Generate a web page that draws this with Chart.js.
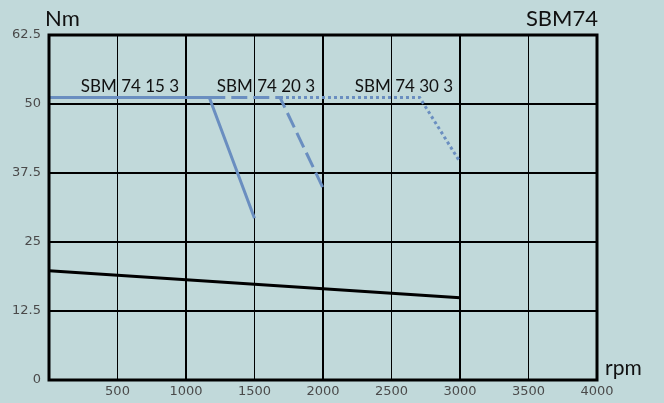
<!DOCTYPE html>
<html><head><meta charset="utf-8">
<script src="https://cdn.jsdelivr.net/npm/chart.js@4/dist/chart.umd.min.js"></script>
<style>html,body{margin:0;padding:0;background:#c1d9da;}canvas{display:block;}</style>
</head><body>
<canvas id="c" width="664" height="403"></canvas>
<script>
const xTicks = [0,500,1000,1500,2000,2500,3000,3500,4000];
const yTicks = [0,12.5,25,37.5,50,62.5];
const seriesNames = ['SBM 74 15 3','SBM 74 20 3','SBM 74 30 3','base'];
const s1 = [{x:0,y:51.2},{x:1170,y:51.2},{x:1500,y:29.3}];
const s2 = [{x:1170,y:51.2},{x:1686,y:51.2},{x:2000,y:34.8}];
const s3 = [{x:1686,y:51.2},{x:2705,y:51.2},{x:3000,y:39.5}];
const base = [{x:0,y:19.8},{x:3000,y:14.9}];
const labelPos = [{x:591,y:52.2},{x:1584,y:52.2},{x:2591,y:52.2}];

const blue = '#6a8ec0';
const labelPlugin = {
  id:'labels',
  afterDraw(chart){
    const {ctx, chartArea:a, scales:{x,y}} = chart;
    ctx.save();
    ctx.strokeStyle='#000'; ctx.lineWidth=3;
    ctx.strokeRect(a.left, a.top, a.right-a.left, a.bottom-a.top);
    ctx.fillStyle='#111';
    ctx.font='17px Lato';
    ctx.textAlign='center'; ctx.textBaseline='alphabetic';
    labelPos.forEach((p,i)=>{ ctx.fillText(seriesNames[i], x.getPixelForValue(p.x), y.getPixelForValue(p.y)); });
    ctx.font='22px Lato';
    ctx.textAlign='left';
    ctx.fillText('Nm', 45, 26);
    ctx.textAlign='right';
    ctx.fillText('SBM74', 598, 26);
    ctx.textAlign='left';
    ctx.font='21px Lato';
    ctx.fillText('rpm', 605, 375);
    ctx.restore();
  }
};
new Chart(document.getElementById('c'), {
  type:'line',
  data:{datasets:[
    {data:s1, borderColor:blue, borderWidth:3, pointRadius:0, order:1},
    {data:s2, borderColor:blue, borderWidth:3, pointRadius:0, borderDash:[16,6], order:2},
    {data:s3, borderColor:blue, borderWidth:3, pointRadius:0, borderDash:[3,3], order:3},
    {data:base, borderColor:'#000', borderWidth:3, pointRadius:0, order:0}
  ]},
  options:{
    responsive:false, animation:false,
    layout:{padding:{top:35,right:67,left:0,bottom:0}},
    plugins:{legend:{display:false},tooltip:{enabled:false}},
    scales:{
      x:{type:'linear',min:0,max:4000,
        afterBuildTicks(s){s.ticks = xTicks.map(v=>({value:v}));},
        afterFit(s){s.height=23;},
        grid:{color:'#000', lineWidth:c=>c.tick && c.tick.value%1000===0?2:1, drawTicks:false},
        border:{display:false},
        ticks:{padding:4, color:'#4a4a4a', font:{family:'DejaVu Sans',size:13}, maxRotation:0,
          callback:v=>v===0?'':String(v)}
      },
      y:{type:'linear',min:0,max:62.5,
        afterBuildTicks(s){s.ticks = yTicks.map(v=>({value:v}));},
        afterFit(s){s.width=49;},
        grid:{color:'#000', lineWidth:2, drawTicks:false},
        border:{display:false},
        ticks:{padding:8, color:'#4a4a4a', font:{family:'DejaVu Sans',size:13}, callback:v=>String(v)}
      }
    }
  },
  plugins:[labelPlugin]
});
</script>
</body></html>
